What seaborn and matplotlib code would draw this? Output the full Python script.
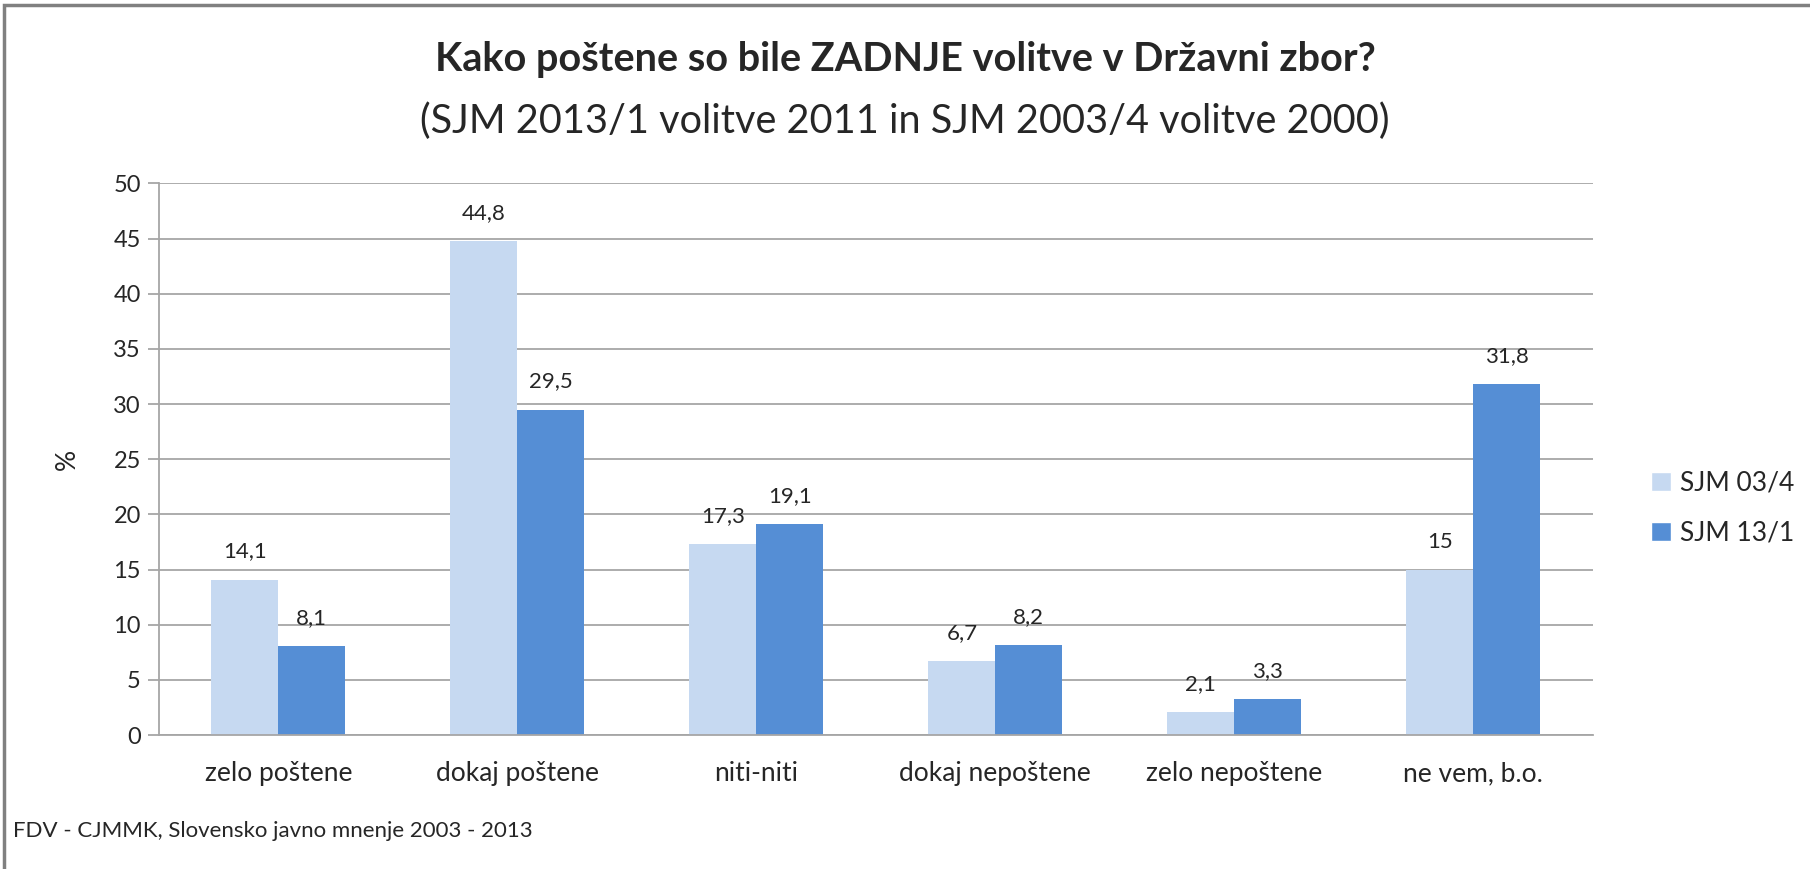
import numpy as np
import pandas as pd
import matplotlib
matplotlib.use("Agg")
import matplotlib.pyplot as plt
import seaborn as sns
from matplotlib.patches import Rectangle, Patch

categories = ["zelo poštene", "dokaj poštene", "niti-niti", "dokaj nepoštene", "zelo nepoštene", "ne vem, b.o."]
sjm_03 = [14.1, 44.8, 17.3, 6.7, 2.1, 15]
sjm_13 = [8.1, 29.5, 19.1, 8.2, 3.3, 31.8]
series = ["SJM 03/4", "SJM 13/1"]
colors = ["#C6D9F1", "#558ED5"]

data = pd.DataFrame({
    "kategorija": categories * 2,
    "vrednost": sjm_03 + sjm_13,
    "serija": [series[0]] * len(categories) + [series[1]] * len(categories),
})

sns.set_style("white")
plt.rcParams['font.family'] = ['Lato', 'DejaVu Sans']

fig = plt.figure(figsize=(18.10, 8.69), dpi=100)
ax = fig.add_axes([0.0878, 0.154, 0.7922, 0.635])

sns.barplot(data=data, x="kategorija", y="vrednost", hue="serija", palette=colors,
            width=0.56, saturation=1, linewidth=0, ax=ax, legend=False)

for cont in ax.containers:
    labels = [("%g" % v).replace(".", ",") for v in cont.datavalues]
    ax.bar_label(cont, labels=labels, padding=13, fontsize=16, color="#262626")

ax.set_ylim(0, 50)
ax.set_xlim(-0.5, 5.5)
ax.set_yticks(np.arange(0, 51, 5))
ax.yaxis.grid(True, color="#A6A6A6", linewidth=1.3)
ax.set_axisbelow(True)
for s in ["top", "right"]:
    ax.spines[s].set_visible(False)
ax.spines["left"].set_color("#A6A6A6")
ax.spines["bottom"].set_color("#A6A6A6")
ax.spines["left"].set_linewidth(1.3)
ax.spines["bottom"].set_linewidth(1.3)
ax.tick_params(axis="y", left=True, length=8, color="#A6A6A6", width=1.3, labelsize=17, pad=5)
ax.tick_params(axis="x", bottom=False, labelsize=19, pad=15)
ax.set_xlabel("")
ax.set_ylabel("%", fontsize=19, labelpad=24)

handles = [Patch(facecolor=c, label=s) for c, s in zip(colors, series)]
fig.legend(handles=handles, loc="center left", bbox_to_anchor=(0.899, 0.415), frameon=False,
           fontsize=19, handlelength=0.75, handleheight=0.75, handletextpad=0.35, labelspacing=0.95)

fig.text(0.5, 0.931, "Kako poštene so bile ZADNJE volitve v Državni zbor?", ha="center", va="center",
         fontsize=28.5, fontweight="bold")
fig.text(0.5, 0.861, "(SJM 2013/1 volitve 2011 in SJM 2003/4 volitve 2000)", ha="center", va="center",
         fontsize=28.5)
fig.text(0.007, 0.044, "FDV - CJMMK, Slovensko javno mnenje 2003 - 2013", ha="left", va="center", fontsize=16)

fig.patches.append(Rectangle((0.002, -0.05), 1.1, 1.044, transform=fig.transFigure, fill=False,
                             edgecolor="#808080", linewidth=2.5))

fig.savefig("out.png", dpi=100)
